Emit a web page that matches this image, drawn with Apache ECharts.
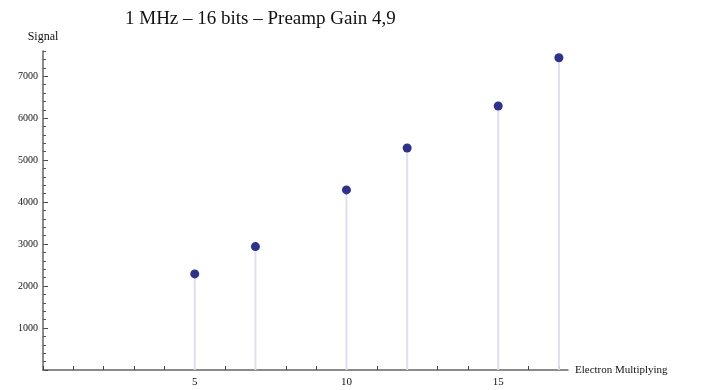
<!DOCTYPE html>
<html>
<head>
<meta charset="utf-8">
<script src="https://cdn.jsdelivr.net/npm/echarts@6/dist/echarts.min.js"></script>
<style>
  html, body { margin: 0; padding: 0; background: #fff; }
  #chart { width: 702px; height: 390px; }
</style>
</head>
<body>
<div id="chart"></div>
<script>
// values
const gains = [5, 7, 10, 12, 15, 17];
const signal = [2290, 2940, 4290, 5290, 6290, 7440];

const xTicks = [0, 1, 2, 3, 4, 5, 6, 7, 8, 9, 10, 11, 12, 13, 14, 15, 16, 17];
const xLabels = [5, 10, 15];
const yMajor = [0, 1000, 2000, 3000, 4000, 5000, 6000, 7000];
const yMinor = [];
for (let v = 0; v <= 7600; v += 200) yMinor.push(v);
const yLabels = [1000, 2000, 3000, 4000, 5000, 6000, 7000];

const serif = "Liberation Serif";
const axisColor = "#666";

const points = gains.map((g, i) => [g, signal[i]]);

const chart = echarts.init(document.getElementById("chart"));
chart.setOption({
  animation: false,
  title: {
    text: "1 MHz \u2013 16 bits \u2013 Preamp Gain 4,9",
    left: 120,
    top: 5,
    textStyle: { fontFamily: serif, fontSize: 19, fontWeight: "normal", color: "#111" }
  },
  grid: { left: 43, right: 134, top: 51, bottom: 20, containLabel: false },
  xAxis: {
    type: "value",
    min: 0,
    max: 17.3,
    name: "Electron Multiplying",
    nameLocation: "end",
    nameGap: 7,
    nameTextStyle: { fontFamily: serif, fontSize: 11, color: "#111" },
    splitLine: { show: false },
    axisLine: { onZero: false, lineStyle: { color: axisColor, width: 1.5 } },
    axisTick: { inside: true, length: 4, customValues: xTicks, lineStyle: { color: "#444" } },
    axisLabel: {
      customValues: xLabels,
      margin: 7,
      formatter: v => String(v),
      fontFamily: serif, fontSize: 11, color: "#111"
    }
  },
  yAxis: [
    {
      type: "value",
      min: 0,
      max: 7600,
      name: "Signal",
      nameLocation: "end",
      nameGap: 8,
      nameTextStyle: { fontFamily: serif, fontSize: 12, color: "#111", align: "center" },
      splitLine: { show: false },
      axisLine: { onZero: false, lineStyle: { color: axisColor, width: 1.5 } },
      axisTick: { inside: true, length: 5, customValues: yMajor, lineStyle: { color: "#444" } },
      axisLabel: {
        customValues: yLabels,
        margin: 5,
        formatter: v => String(v),
        fontFamily: serif, fontSize: 10, color: "#111"
      }
    },
    {
      type: "value",
      min: 0,
      max: 7600,
      position: "left",
      splitLine: { show: false },
      axisLine: { show: false },
      axisTick: { inside: true, length: 3, customValues: yMinor, lineStyle: { color: "#555" } },
      axisLabel: { show: false }
    }
  ],
  series: [
    {
      type: "bar",
      data: points,
      barWidth: 2,
      itemStyle: { color: "#dfdff0" },
      z: 1
    },
    {
      type: "scatter",
      data: points,
      symbolSize: 9,
      itemStyle: { color: "#2f3288", opacity: 1 },
      z: 3
    }
  ]
});
</script>
</body>
</html>
